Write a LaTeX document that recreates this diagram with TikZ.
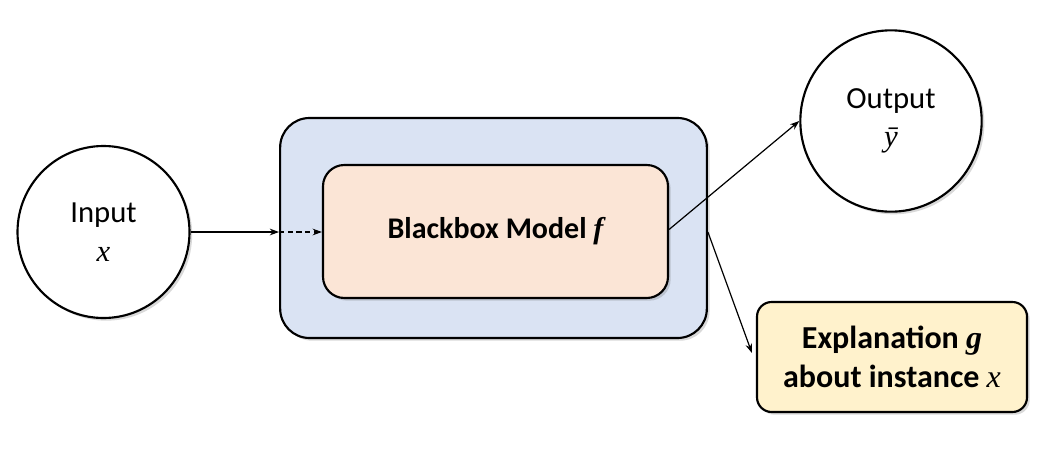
\documentclass[tikz,border=0pt]{standalone}
\usepackage{fontspec}
\setmainfont{Carlito}
\newfontfamily\mf{Liberation Serif}
\newcommand{\mv}[1]{{\mf\itshape #1}}
\usetikzlibrary{shadows,arrows.meta,calc}
\definecolor{outerblue}{HTML}{DAE3F3}
\definecolor{innerpeach}{HTML}{FBE5D6}
\definecolor{explyellow}{HTML}{FFF2CC}
\tikzset{
  shad/.style={drop shadow={shadow xshift=2pt,shadow yshift=-2pt,opacity=0.25,fill=black!60}},
  circnode/.style={circle,draw=black,line width=1.6pt,fill=white,shad,align=center,font=\fontsize{23}{28}\selectfont,inner sep=0pt},
  conn/.style={-{Stealth[length=7pt,width=5pt]},line width=0.9pt},
}
\begin{document}
\begin{tikzpicture}[x=0.75pt,y=-0.75pt]
\useasboundingbox (0,0) rectangle (1052,454);
\node[circnode,minimum size=129pt] (in) at (103.5,232) {Input\\[1pt]\mv{x}};
\node[circnode,minimum size=136pt] (out) at (891,121) {Output\\[1pt]\mv{\=y}};
\node[draw=black,line width=1.6pt,fill=outerblue,rounded corners=22pt,shad,minimum width=320pt,minimum height=165pt] (outer) at (493.5,228) {};
\node[draw=black,line width=1.6pt,fill=innerpeach,rounded corners=16pt,shad,minimum width=258.75pt,minimum height=99.75pt,font=\fontsize{22.5}{27}\selectfont\bfseries] (inner) at (495.5,231.5) {Blackbox Model \mv{f}};
\node[draw=black,line width=1.6pt,fill=explyellow,rounded corners=11pt,shad,minimum width=202.5pt,minimum height=82.5pt,align=center,font=\fontsize{24}{29}\selectfont\bfseries] (expl) at (892,357) {Explanation \mv{g}\\about instance {\mf\itshape\mdseries x}};
\coordinate (a1) at (in.east -| outer.west);
\coordinate (a2) at (in.east -| inner.west);
\draw[conn] (in.east) -- (a1);
\draw[conn,line width=1.3pt,dash pattern=on 4pt off 2.5pt] (a1) -- (a2);
\draw[conn] ($(inner.east)+(0,-2)$) -- (out.west);
\draw[conn] ($(outer.east)+(0,4)$) -- ($(expl.west)+(-4,-4)$);
\end{tikzpicture}
\end{document}
